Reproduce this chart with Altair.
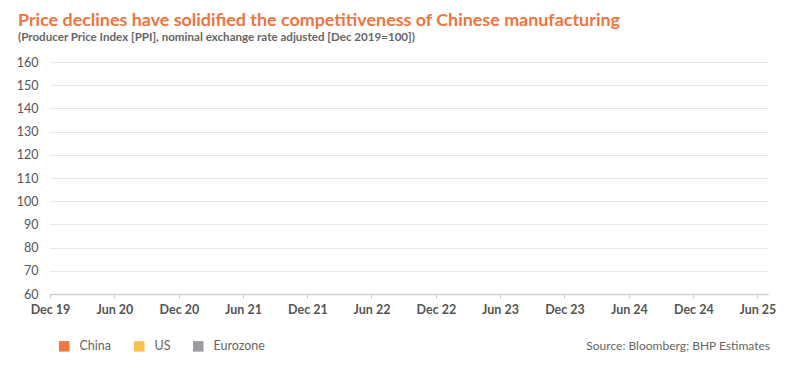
import altair as alt
import pandas as pd

# Series shown in the legend (no line values are visible in the reference)
series = ["China", "US", "Eurozone"]
series_colors = ["#F0783F", "#F9C04E", "#9A9C9F"]
dates = []      # no plotted points visible
values = []
names = []

y_ticks = [60, 70, 80, 90, 100, 110, 120, 130, 140, 150, 160]
x_ticks = [(2019, 12), (2020, 6), (2020, 12), (2021, 6), (2021, 12), (2022, 6),
           (2022, 12), (2023, 6), (2023, 12), (2024, 6), (2024, 12), (2025, 6)]

title_text = "Price declines have solidified the competitiveness of Chinese manufacturing"
subtitle_text = "(Producer Price Index [PPI], nominal exchange rate adjusted [Dec 2019=100])"
source_text = "Source: Bloomberg; BHP Estimates"

FONT = "Lato"

df = pd.DataFrame({"date": pd.to_datetime(pd.Series(dates, dtype="object")),
                   "value": pd.Series(values, dtype="float"),
                   "series": pd.Series(names, dtype="object")})

x_vals = [alt.DateTime(year=y, month=m, date=1, utc=True) for y, m in x_ticks]

x_enc = alt.X("date:T",
              scale=alt.Scale(type="utc",
                              domain=[alt.DateTime(year=2019, month=12, date=1, utc=True),
                                      alt.DateTime(year=2025, month=7, date=1, utc=True)]),
              axis=alt.Axis(values=x_vals, labelExpr="utcFormat(datum.value, '%b %y')",
                            title=None, grid=False, domain=True, domainColor="#d0d0d0",
                            domainWidth=1.5, ticks=True, tickColor="#c8c8c8", tickSize=4,
                            labelFont=FONT, labelFontSize=12.5, labelFontWeight="bold",
                            labelColor="#555555", labelPadding=5, labelOverlap=False,
                            labelFlush=False, labelBound=False))
y_enc = alt.Y("value:Q",
              scale=alt.Scale(domain=[60, 160], nice=False, zero=False),
              axis=alt.Axis(values=y_ticks, title=None, domain=False, ticks=False,
                            grid=True, gridColor="#e6e6e6", gridWidth=1,
                            labelFont=FONT, labelFontSize=12.5, labelColor="#555555",
                            labelPadding=12))
c_enc = alt.Color("series:N",
                  scale=alt.Scale(domain=series, range=series_colors),
                  legend=alt.Legend(orient="none", legendX=8, legendY=278,
                                    direction="horizontal", title=None,
                                    symbolType="square", symbolSize=110,
                                    symbolStrokeWidth=0, symbolOpacity=1,
                                    labelFont=FONT, labelFontSize=12.5,
                                    labelColor="#666666", labelOffset=9,
                                    columnPadding=21))

lines = alt.Chart(df).mark_line(strokeWidth=2).encode(x=x_enc, y=y_enc, color=c_enc)
keys = alt.Chart(df).mark_point(filled=True, shape="square", opacity=1).encode(
    x=x_enc, y=y_enc, color=c_enc)

src = alt.Chart(pd.DataFrame({"t": [source_text]})).mark_text(
    align="right", baseline="middle", font=FONT, fontSize=12, color="#666666"
).encode(x=alt.value(720), y=alt.value(284), text="t:N")

chart = alt.layer(lines, keys, src).properties(
    width=718, height=232,
    autosize=alt.AutoSizeParams(type="none"),
    padding={"left": 42, "top": 54, "right": 24, "bottom": 70},
    title=alt.TitleParams(text=title_text, subtitle=subtitle_text,
                          anchor="start", frame="group", dx=-32,
                          font=FONT, fontSize=17.9, fontWeight="bold", color="#EE7440",
                          subtitleFont=FONT, subtitleFontSize=11.6,
                          subtitleFontWeight="bold", subtitleColor="#666666",
                          subtitlePadding=3, offset=12),
).configure_view(stroke=None)

chart.save("out.html", embed_options={"renderer": "svg", "actions": False})
